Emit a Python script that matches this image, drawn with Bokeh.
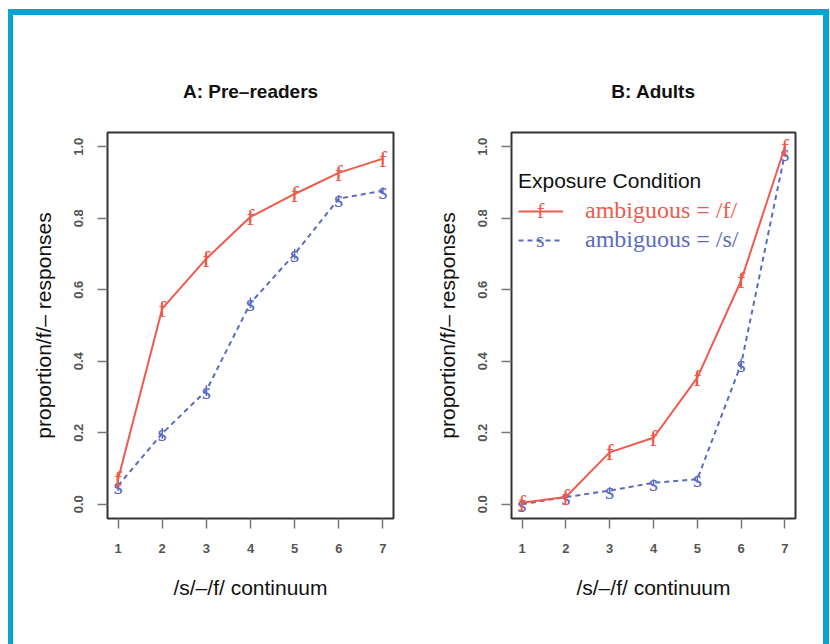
from bokeh.plotting import figure
from bokeh.layouts import row
from bokeh.models import Range1d, FixedTicker, Legend, LegendItem, ColumnDataSource
from bokeh.core.properties import value
from bokeh.embed import file_html
from bokeh.resources import INLINE

# ---- data ----
steps = [1, 2, 3, 4, 5, 6, 7]
pre_f = [0.07, 0.547, 0.687, 0.804, 0.868, 0.927, 0.967]
pre_f_err = [0.02, 0.02, 0.02, 0.015, 0.015, 0.015, 0.015]
pre_s = [0.052, 0.198, 0.318, 0.563, 0.70, 0.855, 0.877]
pre_s_err = [0.015, 0.015, 0.015, 0.015, 0.015, 0.01, 0.01]
adult_f = [0.004, 0.02, 0.145, 0.186, 0.354, 0.626, 1.0]
adult_f_err = [0.012, 0.012, 0.02, 0.015, 0.02, 0.02, 0.01]
adult_s = [0.0, 0.02, 0.038, 0.06, 0.07, 0.392, 0.982]
adult_s_err = [0.01, 0.01, 0.01, 0.01, 0.01, 0.015, 0.01]
y_ticks = [0.0, 0.2, 0.4, 0.6, 0.8, 1.0]
y_tick_labels = ["0.0", "0.2", "0.4", "0.6", "0.8", "1.0"]
titles = ["A: Pre\u2013readers", "B: Adults"]
legend_title = "Exposure Condition"
legend_labels = ["ambiguous = /f/", "ambiguous = /s/"]
point_chars = ["f", "s"]
x_label = "/s/\u2013/f/ continuum"
y_label = "proportion/f/\u2013 responses"

RED = "#ef5a4f"
BLUE = "#5a6cc0"
SANS = "Liberation Sans"
SERIF = "Liberation Serif"


def make_panel(title, fv, fe, sv, se, width, left, right, with_legend=False):
    p = figure(width=width, height=629,
               x_range=Range1d(0.76, 7.24), y_range=Range1d(-0.04, 1.04),
               output_backend="svg", toolbar_location=None,
               min_border_left=left, min_border_right=right,
               min_border_top=117, min_border_bottom=126,
               title=title)
    p.background_fill_color = "white"
    p.border_fill_color = "white"
    p.outline_line_color = "#333333"
    p.outline_line_width = 2
    p.grid.visible = False

    p.title.text_font = SANS
    p.title.text_font_size = "19px"
    p.title.text_font_style = "bold"
    p.title.align = "center"
    p.title.text_color = "#111111"
    p.title.standoff = 62

    for ax in (p.xaxis[0], p.yaxis[0]):
        ax.axis_line_color = None
        ax.major_tick_line_color = "#777777"
        ax.major_tick_line_width = 1.5
        ax.major_tick_out = 10
        ax.major_tick_in = 0
        ax.minor_tick_line_color = None
        ax.major_label_text_font = SANS
        ax.major_label_text_font_size = "13px"
        ax.major_label_text_font_style = "bold"
        ax.major_label_text_color = "#555555"
        ax.axis_label_text_font = SANS
        ax.axis_label_text_font_size = "21px"
        ax.axis_label_text_font_style = "normal"
        ax.axis_label_text_color = "#111111"

    p.xaxis.ticker = FixedTicker(ticks=steps)
    p.xaxis.major_label_standoff = 15
    p.xaxis.axis_label = x_label
    p.xaxis.axis_label_standoff = 20

    p.yaxis.ticker = FixedTicker(ticks=y_ticks)
    p.yaxis.major_label_overrides = {t: l for t, l in zip(y_ticks, y_tick_labels)}
    p.yaxis.major_label_orientation = "vertical"
    p.yaxis.major_label_standoff = 14
    p.yaxis.axis_label = y_label
    p.yaxis.axis_label_standoff = 17

    src_f = ColumnDataSource(dict(x=steps, y=fv,
                                  lo=[a - b for a, b in zip(fv, fe)],
                                  hi=[a + b for a, b in zip(fv, fe)],
                                  t=[point_chars[0]] * len(steps)))
    src_s = ColumnDataSource(dict(x=steps, y=sv,
                                  lo=[a - b for a, b in zip(sv, se)],
                                  hi=[a + b for a, b in zip(sv, se)],
                                  t=[point_chars[1]] * len(steps)))

    ls = p.line("x", "y", source=src_s, line_color=BLUE, line_width=2, line_dash="5 4")
    p.segment(x0="x", y0="lo", x1="x", y1="hi", source=src_s, line_color=BLUE, line_width=1.5)
    p.text(x="x", y="y", text="t", source=src_s, text_color=BLUE,
           text_font=value(SERIF), text_font_size="24px",
           text_align="center", text_baseline="middle")

    lf = p.line("x", "y", source=src_f, line_color=RED, line_width=2)
    p.segment(x0="x", y0="lo", x1="x", y1="hi", source=src_f, line_color=RED, line_width=1.5)
    p.text(x="x", y="y", text="t", source=src_f, text_color=RED,
           text_font=value(SERIF), text_font_size="24px",
           text_align="center", text_baseline="middle")

    if with_legend:
        common = dict(border_line_color=None, background_fill_alpha=0,
                      padding=0, margin=0, spacing=0,
                      glyph_width=45, glyph_height=24, label_height=24,
                      label_standoff=22,
                      label_text_font=SERIF, label_text_font_size="24px")
        leg1 = Legend(items=[LegendItem(label=legend_labels[0], renderers=[lf])],
                      location=(7, 294), title=legend_title,
                      title_text_font=SANS, title_text_font_size="21px",
                      title_text_font_style="normal", title_text_color="#111111",
                      title_standoff=4, label_text_color=RED, **common)
        leg2 = Legend(items=[LegendItem(label=legend_labels[1], renderers=[ls])],
                      location=(7, 265), label_text_color=BLUE, **common)
        # letters sitting on the legend line samples
        mark = dict(border_line_color=None, background_fill_alpha=0,
                    padding=0, margin=0, spacing=0,
                    glyph_width=0, glyph_height=24, label_height=24,
                    label_standoff=0, label_text_font=SERIF,
                    label_text_font_size="22px")
        leg3 = Legend(items=[LegendItem(label=point_chars[0], renderers=[lf])],
                      location=(26, 294), label_text_color=RED, **mark)
        leg4 = Legend(items=[LegendItem(label=point_chars[1], renderers=[ls])],
                      location=(25, 265), label_text_color=BLUE, **mark)
        for lg in (leg1, leg2, leg3, leg4):
            p.add_layout(lg)
    return p


p1 = make_panel(titles[0], pre_f, pre_f_err, pre_s, pre_s_err, 407, 94, 27)
p2 = make_panel(titles[1], adult_f, adult_f_err, adult_s, adult_s_err, 403, 91, 28, with_legend=True)

BORDER = "#0ca3d3"
layout = row(p1, p2, margin=(9, 0, 0, 8),
             styles={"border-top": f"6px solid {BORDER}",
                     "border-left": f"5px solid {BORDER}",
                     "border-right": f"6px solid {BORDER}"})

open("out.html", "w").write(file_html(layout, INLINE))
